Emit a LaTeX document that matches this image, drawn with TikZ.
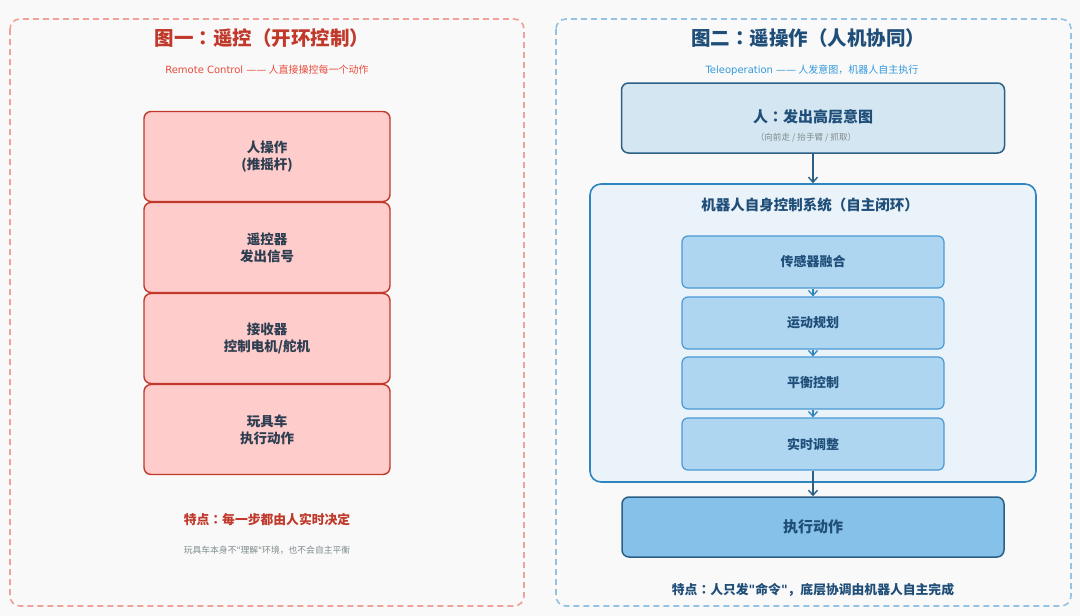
\documentclass[tikz,border=0pt]{standalone}
\usepackage{fontspec}
\setmainfont{Noto Sans CJK SC}
\newfontfamily\latin{DejaVu Sans}
\newfontfamily\jpf{Noto Sans CJK JP}
\newcommand{\sq}{{\latin\symbol{34}}}
\newcommand{\cc}{{\jpf ：}}
\usetikzlibrary{arrows.meta}
\definecolor{bgc}{HTML}{F9F9F9}
\definecolor{redt}{HTML}{C0392B}
\definecolor{redsub}{HTML}{E74C3C}
\definecolor{redpanel}{HTML}{F1A19A}
\definecolor{redfill}{HTML}{FFCCCC}
\definecolor{darkt}{HTML}{2C3E50}
\definecolor{grayt}{HTML}{7F8C8D}
\definecolor{bluet}{HTML}{1F4E79}
\definecolor{bluesub}{HTML}{3498DB}
\definecolor{bluepanel}{HTML}{93C2E3}
\definecolor{topfill}{HTML}{D4E6F1}
\definecolor{bigfill}{HTML}{EAF2FA}
\definecolor{bigdraw}{HTML}{2E86C1}
\definecolor{innfill}{HTML}{AED6F1}
\definecolor{inndraw}{HTML}{4A9AD4}
\definecolor{botfill}{HTML}{85C1E9}
\definecolor{boxdraw}{HTML}{2A5F86}
\tikzset{
  panel/.style={draw, dashed, dash pattern=on 6pt off 4pt, line width=1.6pt, rounded corners=10pt},
  redbox/.style={draw=redt, fill=redfill, line width=1.4pt, rounded corners=7pt,
     minimum width=246pt, minimum height=90pt, inner sep=0pt, text=darkt,
     font=\fontsize{13.5}{17}\selectfont\bfseries, align=center},
  innbox/.style={draw=inndraw, fill=innfill, line width=1.2pt, rounded corners=6pt,
     minimum width=262pt, minimum height=52pt, inner sep=0pt, text=bluet,
     font=\fontsize{13}{16}\selectfont\bfseries},
  arr/.style={-{Straight Barb[length=5pt,width=9pt]}, line width=1.4pt, draw=boxdraw},
  smallarr/.style={-{Straight Barb[length=5pt,width=9pt]}, line width=1.3pt, draw=bigdraw},
  plain/.style={inner sep=0pt, anchor=center}
}
\begin{document}
\begin{tikzpicture}[x=1pt,y=-1pt]
\useasboundingbox (0,0) rectangle (1080,616);
\fill[bgc] (0,0) rectangle (1080,616);
% panels
\draw[panel, draw=redpanel] (10,19) rectangle (524,606);
\draw[panel, draw=bluepanel] (556,19) rectangle (1071,606);
% left side
\node[plain, text=redt, font=\fontsize{19.5}{22}\selectfont\bfseries] (ltitle) at (262,38) {图一\cc 遥控（开环控制）};
\node[plain, text=redsub, font=\fontsize{10}{12}\selectfont] (lsub) at (267,70) {{\latin Remote Control ——} 人直接操控每一个动作};
\node[redbox] (l1) at (267,156.5) {人操作\\({推摇杆})};
\node[redbox] (l2) at (267,247.5) {遥控器\\发出信号};
\node[redbox] (l3) at (267,338.5) {接收器\\控制电机/舵机};
\node[redbox] (l4) at (267,429.5) {玩具车\\执行动作};
\node[plain, text=redt, font=\fontsize{12.8}{15}\selectfont\bfseries] (lnote) at (267,520) {特点\cc 每一步都由人实时决定};
\node[plain, text=grayt, font=\fontsize{8.8}{10}\selectfont] (lnote2) at (267,550) {玩具车本身不\sq 理解\sq 环境，也不会自主平衡};
% right side
\node[plain, text=bluet, font=\fontsize{19.5}{22}\selectfont\bfseries] (rtitle) at (808,38) {图二\cc 遥操作（人机协同）};
\node[plain, text=bluesub, font=\fontsize{10}{12}\selectfont] (rsub) at (812,70) {{\latin Teleoperation ——} 人发意图，机器人自主执行};
\node[draw=boxdraw, fill=topfill, line width=1.5pt, rounded corners=7pt, minimum width=383pt, minimum height=70pt, inner sep=0pt] (top) at (813,118) {};
\node[plain, text=bluet, font=\fontsize{15}{18}\selectfont\bfseries] (toptxt) at (813,117) {人\cc 发出高层意图};
\node[plain, text=grayt, font=\fontsize{8.6}{10}\selectfont] (topsub) at (806,138) {（向前走 / 抬手臂 / 抓取）};
\node[draw=bigdraw, fill=bigfill, line width=1.6pt, rounded corners=11pt, minimum width=446pt, minimum height=298pt, inner sep=0pt] (big) at (813,333) {};
\node[plain, text=bluet, font=\fontsize{14.5}{17}\selectfont\bfseries] (bigtitle) at (810,205) {机器人自身控制系统（自主闭环）};
\node[innbox] (i1) at (813,262) {传感器融合};
\node[innbox] (i2) at (813,323) {运动规划};
\node[innbox] (i3) at (813,383) {平衡控制};
\node[innbox] (i4) at (813,444) {实时调整};
\node[draw=boxdraw, fill=botfill, line width=1.5pt, rounded corners=7pt, minimum width=382pt, minimum height=60pt, inner sep=0pt, text=bluet, font=\fontsize{15}{18}\selectfont\bfseries] (bot) at (813,527) {执行动作};
\node[plain, text=bluet, font=\fontsize{12.8}{15}\selectfont\bfseries] (rnote) at (813,590) {特点\cc 人只发\sq 命令\sq ，底层协调由机器人自主完成};
% connectors
\draw[arr] (top.south) -- (big.north);
\draw[smallarr] (i1.south) -- (i2.north);
\draw[smallarr] (i2.south) -- (i3.north);
\draw[smallarr] (i3.south) -- (i4.north);
\draw[arr] (i4.south) -- (bot.north);
\end{tikzpicture}
\end{document}
